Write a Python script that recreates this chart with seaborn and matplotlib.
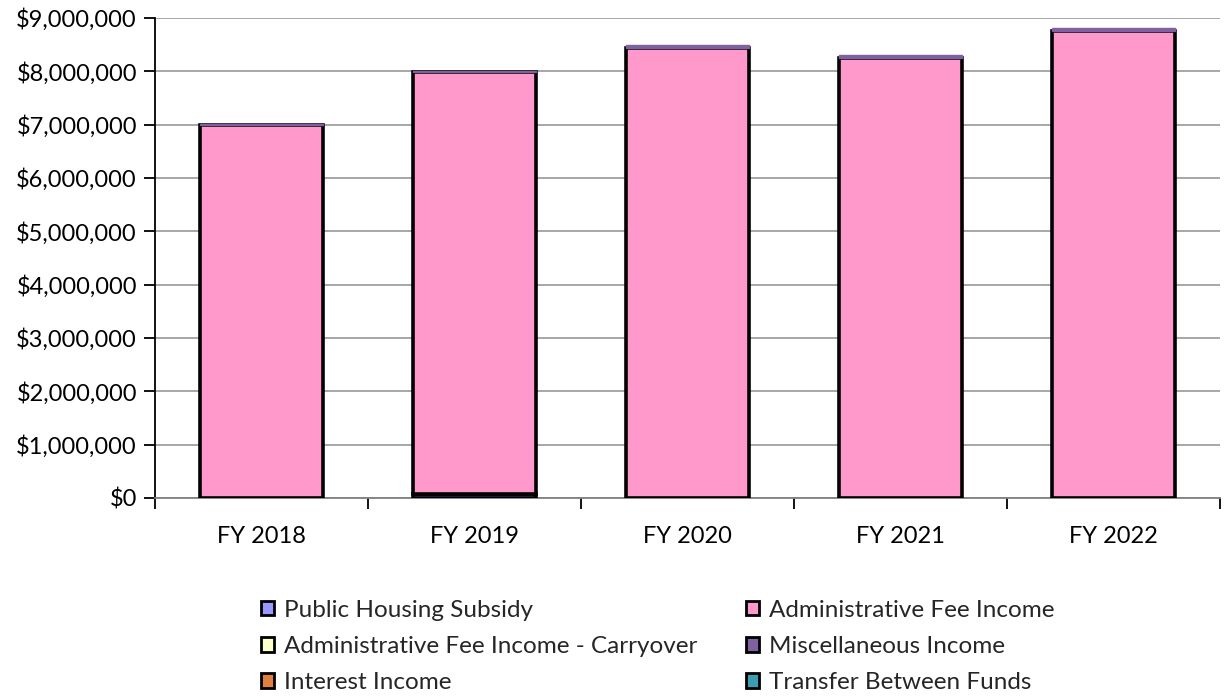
import matplotlib
matplotlib.use("Agg")
import matplotlib.pyplot as plt
from matplotlib.patches import Patch
from matplotlib.ticker import FuncFormatter, MultipleLocator, FixedLocator
import seaborn as sns
import pandas as pd
import numpy as np

# Funding sources by fiscal year (stacked bottom to top in this order)
years = ["FY 2018", "FY 2019", "FY 2020", "FY 2021", "FY 2022"]
public_housing_subsidy = [0, 70000, 0, 0, 0]
admin_fee_income = [7000000, 7920000, 8430000, 8250000, 8750000]
admin_fee_carryover = [0, 0, 0, 0, 0]
misc_income = [15000, 20000, 55000, 50000, 55000]
interest_income = [0, 0, 0, 0, 0]
transfer_between_funds = [0, 0, 0, 0, 0]

series = [
    ("Public Housing Subsidy", public_housing_subsidy, "#9999ff"),
    ("Administrative Fee Income", admin_fee_income, "#ff99cc"),
    ("Administrative Fee Income - Carryover", admin_fee_carryover, "#ffffcc"),
    ("Miscellaneous Income", misc_income, "#7f619f"),
    ("Interest Income", interest_income, "#dd8040"),
    ("Transfer Between Funds", transfer_between_funds, "#3c9db0"),
]

sns.set_theme(style="white")
plt.rcParams["font.family"] = ["Lato", "DejaVu Sans"]
FS = 17
LEG_FS = 17.5

fig = plt.figure(figsize=(12.25, 6.96), dpi=100)
ax = fig.add_axes([0.1265, 0.2845, 0.8695, 0.6897])

bottom = np.zeros(len(years))
for name, vals, color in series:
    vals = np.asarray(vals, dtype=float)
    if vals.sum() > 0:
        df = pd.DataFrame({"year": years, "value": vals})
        edge = color if name == "Miscellaneous Income" else "black"
        lw = 1.0 if name == "Miscellaneous Income" else 2.6
        sns.barplot(data=df, x="year", y="value", color=color, ax=ax,
                    bottom=bottom, width=0.58, edgecolor=edge,
                    linewidth=lw, saturation=1, zorder=3)
    bottom = bottom + vals

ax.set_xlim(-0.5, len(years) - 0.5)
ax.set_ylim(0, 9000000)
ax.yaxis.set_major_locator(MultipleLocator(1000000))
ax.yaxis.set_major_formatter(FuncFormatter(lambda v, p: f"${v:,.0f}"))
ax.grid(axis="y", color="#a0a0a0", linewidth=1.3, zorder=0)
ax.set_axisbelow(True)
ax.set_xlabel("")
ax.set_ylabel("")

for s in ["top", "right"]:
    ax.spines[s].set_visible(False)
ax.spines["left"].set_color("black")
ax.spines["left"].set_linewidth(1.3)
ax.spines["bottom"].set_color("#808080")
ax.spines["bottom"].set_linewidth(1.3)

ax.tick_params(axis="y", which="major", left=True, length=8, width=1.3,
               color="black", labelsize=FS, pad=5, labelcolor="black")
ax.tick_params(axis="x", which="major", bottom=False, length=0,
               labelsize=FS, pad=20, labelcolor="black")
ax.xaxis.set_minor_locator(FixedLocator(np.arange(-0.5, len(years), 1.0)))
ax.tick_params(axis="x", which="minor", bottom=True, length=8, width=1.3,
               color="black")

handles = [Patch(facecolor=c, edgecolor="black", linewidth=2.0, label=n)
           for n, _, c in series]
order = [0, 2, 4, 1, 3, 5]
fig.legend([handles[i] for i in order], [series[i][0] for i in order],
           ncol=2, loc="upper left", bbox_to_anchor=(0.213, 0.1385),
           frameon=False, fontsize=LEG_FS, handlelength=0.55, handleheight=0.55,
           handletextpad=0.4, columnspacing=2.0, labelspacing=0.63,
           borderaxespad=0, borderpad=0)

fig.savefig("out.png", dpi=100)
